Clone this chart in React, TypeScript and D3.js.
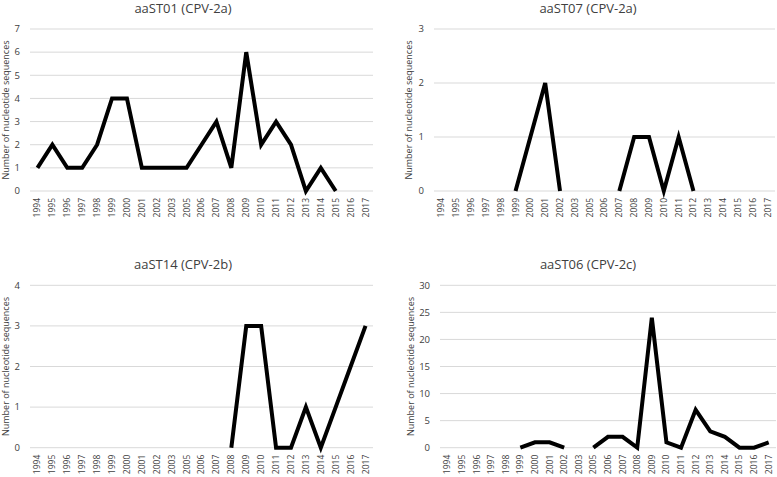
import React from "react";
import * as d3 from "d3";

const years = ["1994","1995","1996","1997","1998","1999","2000","2001","2002","2003","2005","2006","2007","2008","2009","2010","2011","2012","2013","2014","2015","2016","2017"];

const aaST01: (number | null)[] = [1,2,1,1,2,4,4,1,1,1,1,2,3,1,6,2,3,2,0,1,0,null,null];
const aaST07: (number | null)[] = [null,null,null,null,null,0,1,2,0,null,null,null,0,1,1,0,1,0,null,null,null,null,null];
const aaST14: (number | null)[] = [null,null,null,null,null,null,null,null,null,null,null,null,null,0,3,3,0,0,1,0,1,2,3];
const aaST06: (number | null)[] = [null,null,null,null,null,0,1,1,0,null,0,2,2,0,24,1,0,7,3,2,0,0,1];

const yTicks01 = [0,1,2,3,4,5,6,7];
const yTicks07 = [0,1,2,3];
const yTicks14 = [0,1,2,3,4];
const yTicks06 = [0,5,10,15,20,25,30];

const titles = ["aaST01 (CPV-2a)", "aaST07 (CPV-2a)", "aaST14 (CPV-2b)", "aaST06 (CPV-2c)"];
const yTitle = "Number of nucleotide sequences";

const FONT = "'Open Sans', sans-serif";
const TEXT = "#404040";

type PanelProps = {
  title: string;
  values: (number | null)[];
  ticks: number[];
  x0: number; x1: number; yTop: number; yBot: number;
  titleX: number; titleY: number; axisTitleX: number;
};

function Panel({ title, values, ticks, x0, x1, yTop, yBot, titleX, titleY, axisTitleX }: PanelProps) {
  const x = d3.scaleBand<string>().domain(years).range([x0, x1]).padding(0);
  const y = d3.scaleLinear().domain([0, d3.max(ticks) as number]).range([yBot, yTop]);
  const pts = years.map((yr, i) => ({ yr, v: values[i] }));
  const line = d3.line<{ yr: string; v: number | null }>()
    .defined(d => d.v != null)
    .x(d => (x(d.yr) as number) + x.bandwidth() / 2)
    .y(d => y(d.v as number));
  return (
    <g>
      <text x={titleX} y={titleY} textAnchor="middle" fontSize={13} fill={TEXT} fontFamily={FONT}>{title}</text>
      {ticks.map(t => (
        <g key={t}>
          <line x1={x0} x2={x1} y1={y(t)} y2={y(t)} stroke="#d9d9d9" strokeWidth={1} />
          <text x={x0 - 10} y={y(t)} dy="0.35em" textAnchor="end" fontSize={9.5} fill={TEXT} fontFamily={FONT}>{t}</text>
        </g>
      ))}
      {years.map(yr => (
        <text key={yr} transform={`translate(${(x(yr) as number) + x.bandwidth() / 2},${yBot + 7}) rotate(-90)`}
          textAnchor="end" dy="0.35em" fontSize={8.5} fill={TEXT} fontFamily={FONT}>{yr}</text>
      ))}
      <text transform={`translate(${axisTitleX},${(yTop + yBot) / 2}) rotate(-90)`} textAnchor="middle" dy="0.35em"
        fontSize={9} fill={TEXT} fontFamily={FONT}>{yTitle}</text>
      <path d={line(pts) || ""} fill="none" stroke="#000" strokeWidth={4} strokeLinejoin="miter" strokeLinecap="butt" />
    </g>
  );
}

export default function App() {
  return (
    <svg width={777} height={477} style={{ position: "absolute", left: 0, top: 0, background: "#fff" }}>
      <rect x={0} y={0} width={777} height={477} fill="#fff" />
      <Panel title={titles[0]} values={aaST01} ticks={yTicks01} x0={30} x1={373} yTop={29} yBot={191} titleX={183} titleY={13} axisTitleX={6} />
      <Panel title={titles[1]} values={aaST07} ticks={yTicks07} x0={434} x1={775} yTop={29} yBot={191} titleX={588} titleY={13} axisTitleX={409} />
      <Panel title={titles[2]} values={aaST14} ticks={yTicks14} x0={30} x1={373} yTop={285.3} yBot={447.7} titleX={183} titleY={269} axisTitleX={6} />
      <Panel title={titles[3]} values={aaST06} ticks={yTicks06} x0={440} x1={776} yTop={285.3} yBot={447.7} titleX={588} titleY={269} axisTitleX={411} />
    </svg>
  );
}
